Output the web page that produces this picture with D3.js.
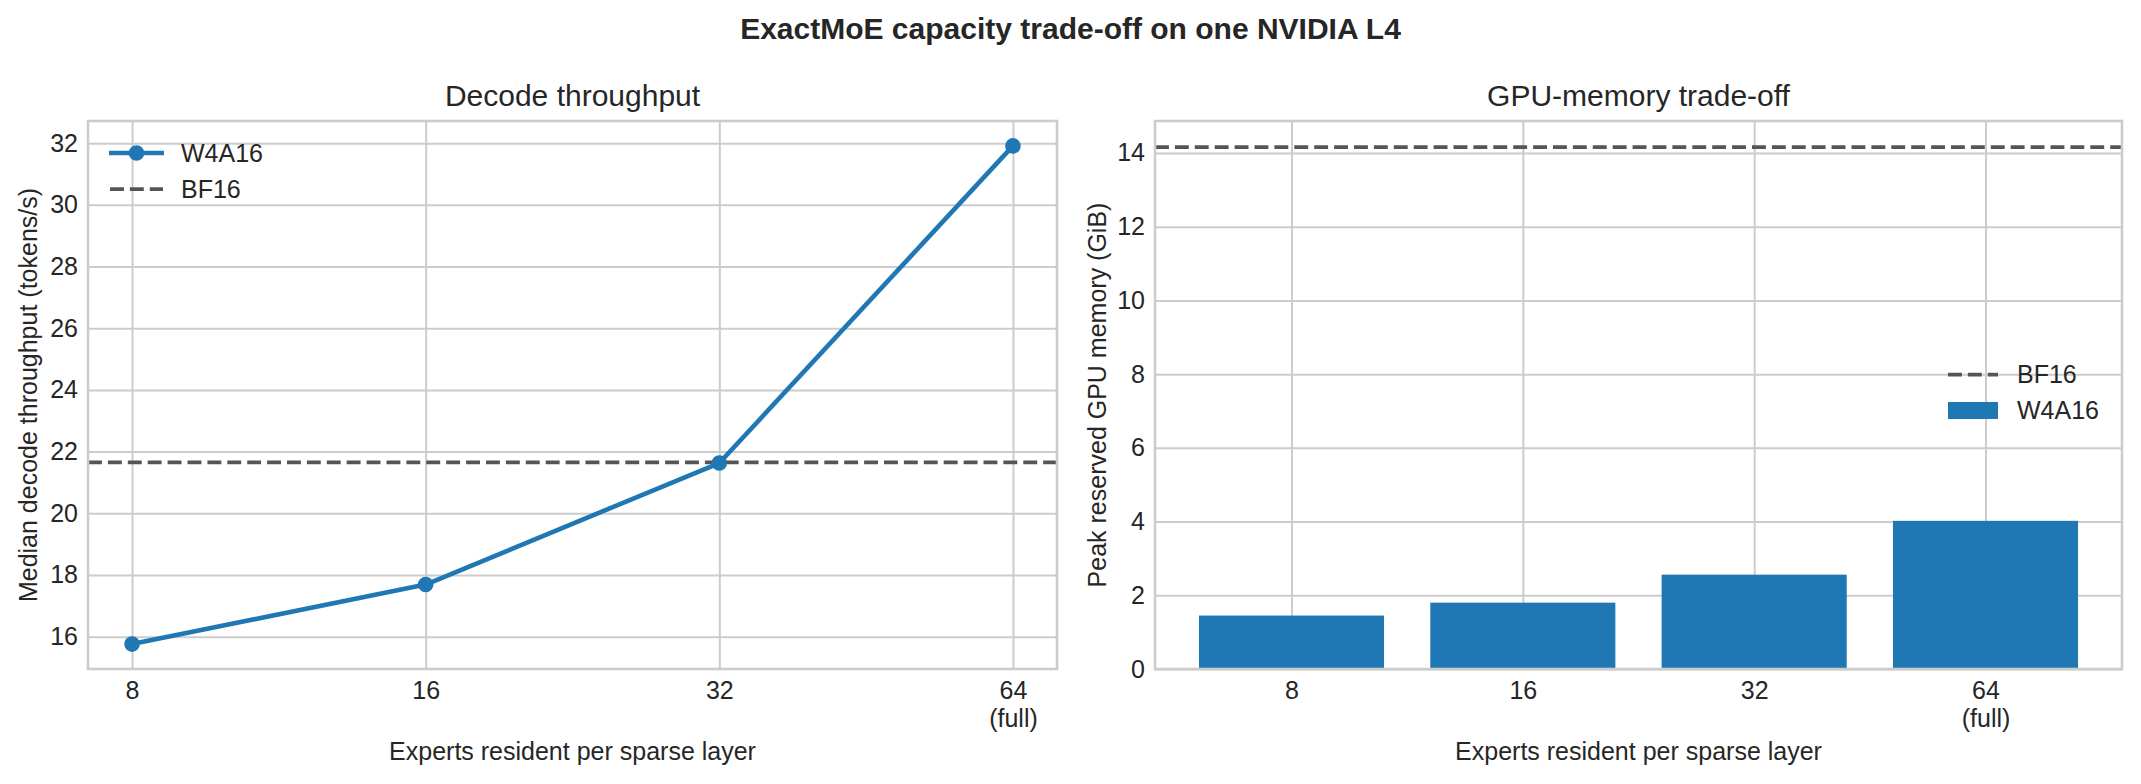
<!DOCTYPE html>
<html>
<head>
<meta charset="utf-8">
<script src="https://cdn.jsdelivr.net/npm/d3@7"></script>
<style>
  body { margin: 0; background: #fff; }
  svg { display: block; font-family: "Liberation Sans", Arial, sans-serif; }
  .tick line { stroke: #cccccc; stroke-width: 2; }
  .tick text { fill: #262626; font-size: 25px; }
</style>
</head>
<body>
<svg></svg>
<script>
// data
const experts = ["8", "16", "32", "64"];
const expertLabels = [["8"], ["16"], ["32"], ["64", "(full)"]];
const throughputW4A16 = [15.76, 17.69, 21.63, 31.91];
const throughputBF16 = 21.65;
const memoryW4A16 = [1.45, 1.80, 2.56, 4.02];
const memoryBF16 = 14.16;
const throughputTicks = [16, 18, 20, 22, 24, 26, 28, 30, 32];
const memoryTicks = [0, 2, 4, 6, 8, 10, 12, 14];

const W = 2141, H = 784;
const blue = "#1f77b4", gray = "#555555", ink = "#262626";

const svg = d3.select("svg").attr("width", W).attr("height", H);
svg.append("rect").attr("width", W).attr("height", H).attr("fill", "#fff");

// panel boxes (pixels)
const axTop = 121, axBottom = 669;
const left1 = 88, right1 = 1057;
const left2 = 1155, right2 = 2122;

// matplotlib style 5% margins
const idx = experts.map((d, i) => i);
const x1 = d3.scaleLinear().domain([-0.15, 3.15]).range([left1, right1]);
const yLo = d3.min(throughputW4A16.concat([throughputBF16]));
const yHi = d3.max(throughputW4A16.concat([throughputBF16]));
const pad = (yHi - yLo) * 0.05;
const y1 = d3.scaleLinear().domain([yLo - pad, yHi + pad]).range([axBottom, axTop]);

const x2 = d3.scaleLinear().domain([-0.59, 3.59]).range([left2, right2]);
const y2 = d3.scaleLinear().domain([0, d3.max(memoryW4A16.concat([memoryBF16])) * 1.05]).range([axBottom, axTop]);

function gridAxes(x, y, yTicks, l, r) {
  const g = svg.append("g");
  // y grid + labels
  g.append("g")
    .attr("transform", `translate(${l},0)`)
    .call(d3.axisLeft(y).tickValues(yTicks).tickSize(-(r - l)).tickPadding(10).tickFormat(d3.format("d")))
    .call(a => a.select(".domain").remove());
  // x grid + labels (multi line)
  const xa = g.append("g")
    .attr("transform", `translate(0,${axBottom})`)
    .call(d3.axisBottom(x).tickValues(idx).tickSize(-(axBottom - axTop)).tickPadding(12).tickFormat(""))
    .call(a => a.select(".domain").remove());
  xa.selectAll(".tick text").each(function(d) {
    const t = d3.select(this);
    expertLabels[d].forEach((s, k) => {
      t.append("tspan").attr("x", 0).attr("dy", k == 0 ? "0.71em" : 28).text(s);
    });
  });
  g.selectAll("text").attr("font-family", "Liberation Sans, Arial, sans-serif");
  return g;
}

function spines(l, r) {
  svg.append("rect")
    .attr("x", l).attr("y", axTop).attr("width", r - l).attr("height", axBottom - axTop)
    .attr("fill", "none").attr("stroke", "#cccccc").attr("stroke-width", 2.6);
}

// ---- left panel: decode throughput ----
gridAxes(x1, y1, throughputTicks, left1, right1);

svg.append("line")
  .attr("x1", left1).attr("x2", right1)
  .attr("y1", y1(throughputBF16)).attr("y2", y1(throughputBF16))
  .attr("stroke", gray).attr("stroke-width", 3.75).attr("stroke-dasharray", "13.9,6");

const line = d3.line().x((d, i) => x1(i)).y(d => y1(d));
svg.append("path")
  .datum(throughputW4A16)
  .attr("d", line)
  .attr("fill", "none").attr("stroke", blue).attr("stroke-width", 4.6)
  .attr("stroke-linejoin", "round");
svg.selectAll("circle.pt")
  .data(throughputW4A16)
  .enter().append("circle")
  .attr("class", "pt")
  .attr("cx", (d, i) => x1(i)).attr("cy", d => y1(d))
  .attr("r", 7.8).attr("fill", blue);

spines(left1, right1);

// legend upper left
const lg1 = svg.append("g").attr("font-size", 25).attr("fill", ink);
lg1.append("line").attr("x1", 109).attr("x2", 164).attr("y1", 153).attr("y2", 153)
  .attr("stroke", blue).attr("stroke-width", 4.6);
lg1.append("circle").attr("cx", 136.5).attr("cy", 153).attr("r", 7.8).attr("fill", blue);
lg1.append("text").attr("x", 181).attr("y", 153).attr("dy", "0.35em").text("W4A16");
lg1.append("line").attr("x1", 110).attr("x2", 163).attr("y1", 189).attr("y2", 189)
  .attr("stroke", gray).attr("stroke-width", 3.75).attr("stroke-dasharray", "13.9,6");
lg1.append("text").attr("x", 181).attr("y", 189).attr("dy", "0.35em").text("BF16");

// ---- right panel: memory ----
gridAxes(x2, y2, memoryTicks, left2, right2);

svg.selectAll("rect.bar")
  .data(memoryW4A16)
  .enter().append("rect")
  .attr("class", "bar")
  .attr("x", (d, i) => x2(i - 0.4))
  .attr("width", (d, i) => x2(i + 0.4) - x2(i - 0.4))
  .attr("y", d => y2(d))
  .attr("height", d => y2(0) - y2(d))
  .attr("fill", blue);

svg.append("line")
  .attr("x1", left2).attr("x2", right2)
  .attr("y1", y2(memoryBF16)).attr("y2", y2(memoryBF16))
  .attr("stroke", gray).attr("stroke-width", 3.75).attr("stroke-dasharray", "13.9,6");

spines(left2, right2);

// legend center right
const lg2 = svg.append("g").attr("font-size", 25).attr("fill", ink);
lg2.append("line").attr("x1", 1948).attr("x2", 1998).attr("y1", 374.5).attr("y2", 374.5)
  .attr("stroke", gray).attr("stroke-width", 3.75).attr("stroke-dasharray", "13.9,6");
lg2.append("text").attr("x", 2017).attr("y", 374.5).attr("dy", "0.35em").text("BF16");
lg2.append("rect").attr("x", 1948).attr("y", 402).attr("width", 50).attr("height", 17).attr("fill", blue);
lg2.append("text").attr("x", 2017).attr("y", 410.5).attr("dy", "0.35em").text("W4A16");

// ---- titles and labels ----
svg.append("text").attr("x", W / 2).attr("y", 39).attr("text-anchor", "middle")
  .attr("font-size", 30).attr("font-weight", "bold").attr("fill", ink)
  .text("ExactMoE capacity trade-off on one NVIDIA L4");

const titles = [
  { t: "Decode throughput", cx: (left1 + right1) / 2, yl: "Median decode throughput (tokens/s)", yx: 37 },
  { t: "GPU-memory trade-off", cx: (left2 + right2) / 2, yl: "Peak reserved GPU memory (GiB)", yx: 1106 }
];
titles.forEach(p => {
  svg.append("text").attr("x", p.cx).attr("y", 106).attr("text-anchor", "middle")
    .attr("font-size", 30).attr("fill", ink).text(p.t);
  svg.append("text").attr("x", p.cx).attr("y", 760).attr("text-anchor", "middle")
    .attr("font-size", 25).attr("fill", ink).text("Experts resident per sparse layer");
  svg.append("text").attr("transform", `translate(${p.yx},${(axTop + axBottom) / 2}) rotate(-90)`)
    .attr("text-anchor", "middle").attr("font-size", 25).attr("fill", ink).text(p.yl);
});
</script>
</body>
</html>
